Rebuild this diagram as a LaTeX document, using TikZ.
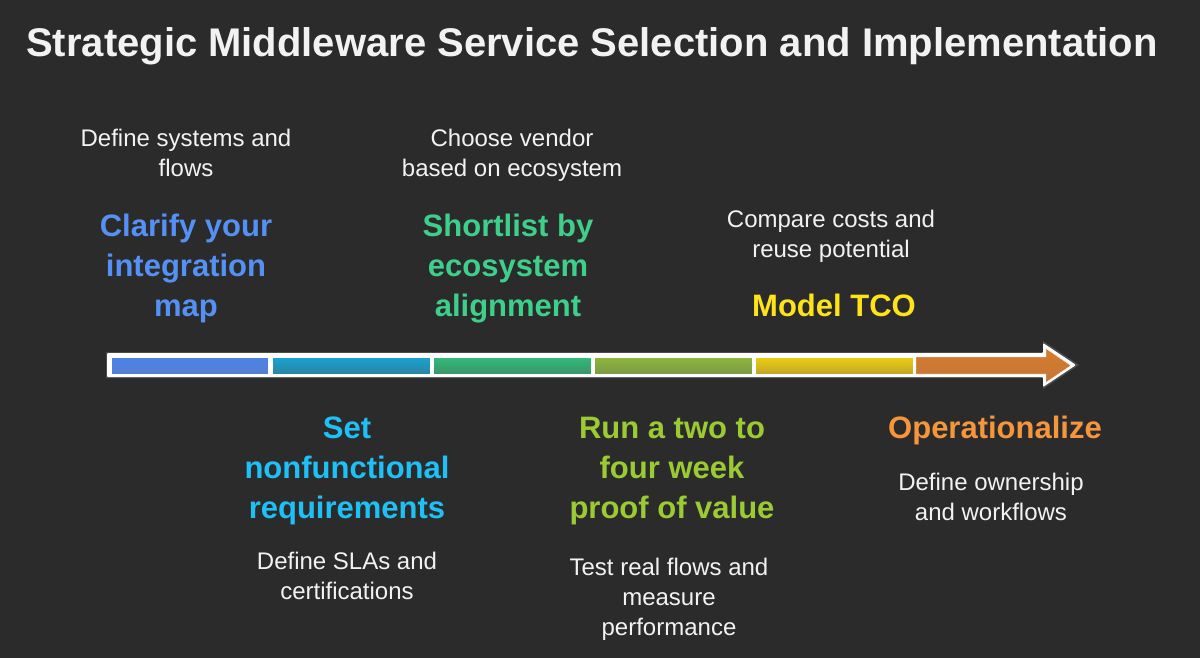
\documentclass[tikz,border=0pt]{standalone}
\usepackage{fontspec}
\setmainfont{Liberation Sans}
\definecolor{bg}{HTML}{2B2B2B}
\definecolor{cblue}{HTML}{5591F5}
\definecolor{ccyan}{HTML}{1EC0F5}
\definecolor{cgreen}{HTML}{3ECF8A}
\definecolor{clime}{HTML}{9BCB32}
\definecolor{cyellow}{HTML}{FFE31A}
\definecolor{corange}{HTML}{F5963C}
\definecolor{txt}{HTML}{F2F2F2}
\definecolor{s1t}{HTML}{4A82E8}\definecolor{s1b}{HTML}{5580D0}
\definecolor{s2t}{HTML}{18A4D4}\definecolor{s2b}{HTML}{2C84A2}
\definecolor{s3t}{HTML}{30BC7A}\definecolor{s3b}{HTML}{3C9468}
\definecolor{s4t}{HTML}{8CB838}\definecolor{s4b}{HTML}{7C9848}
\definecolor{s5t}{HTML}{ECD010}\definecolor{s5b}{HTML}{C0A628}
\definecolor{s6t}{HTML}{D67C2E}\definecolor{s6b}{HTML}{C47636}
\tikzset{
  head/.style={font=\fontsize{31}{40}\selectfont\bfseries, align=center, inner sep=0pt, anchor=base},
  body/.style={font=\fontsize{24}{30}\selectfont, text=txt, align=center, inner sep=0pt, anchor=base},
  seg/.style={draw=white, line width=0.4pt},
}
\begin{document}
\begin{tikzpicture}[x=1pt,y=-1pt]
\useasboundingbox (0,0) rectangle (1200,658);
\fill[bg] (0,0) rectangle (1200,658);
% title
\node[font=\fontsize{40}{48}\selectfont\bfseries, text=txt, inner sep=0pt, anchor=base] (title) at (592,57) {Strategic Middleware Service Selection and Implementation};
% arrow outline
\fill[black!70] (106,352) -- (1043,352) -- (1043,341) -- (1079,365) -- (1043,389) -- (1043,378) -- (106,378) -- cycle;
\fill[white, rounded corners=1pt] (107,353) -- (1043,353) -- (1043,343) -- (1076,365) -- (1043,387) -- (1043,377) -- (107,377) -- cycle;
% segments
\shade[seg, top color=s1t, bottom color=s1b] (111,357) rectangle (268,374);
\shade[seg, top color=s2t, bottom color=s2b] (272,357) rectangle (430,374);
\shade[seg, top color=s3t, bottom color=s3b] (433,357) rectangle (591,374);
\shade[seg, top color=s4t, bottom color=s4b] (594,357) rectangle (752,374);
\shade[seg, top color=s5t, bottom color=s5b] (755,357) rectangle (913,374);
\shade[seg, top color=s6t, bottom color=s6b] (916,357) -- (1046,357) -- (1046,348.5) -- (1071,365.5) -- (1046,382.5) -- (1046,374) -- (916,374) -- cycle;
% stage 1
\node[body] (d1) at (186,177) {Define systems and\\flows};
\node[head, text=cblue] (h1) at (186,316) {Clarify your\\integration\\map};
% stage 2
\node[head, text=ccyan] (h2) at (347,518) {Set\\nonfunctional\\requirements};
\node[body] (d2) at (347,599) {Define SLAs and\\certifications};
% stage 3
\node[body] (d3) at (512,177) {Choose vendor\\based on ecosystem};
\node[head, text=cgreen] (h3) at (508,316) {Shortlist by\\ecosystem\\alignment};
% stage 4
\node[head, text=clime] (h4) at (672,518) {Run a two to\\four week\\proof of value};
\node[body] (d4) at (669,635) {Test real flows and\\measure\\performance};
% stage 5
\node[body] (d5) at (831,257) {Compare costs and\\reuse potential};
\node[head, text=cyellow] (h5) at (834,316) {Model TCO};
% stage 6
\node[head, text=corange] (h6) at (995,438) {Operationalize};
\node[body] (d6) at (991,520) {Define ownership\\and workflows};
\end{tikzpicture}
\end{document}
